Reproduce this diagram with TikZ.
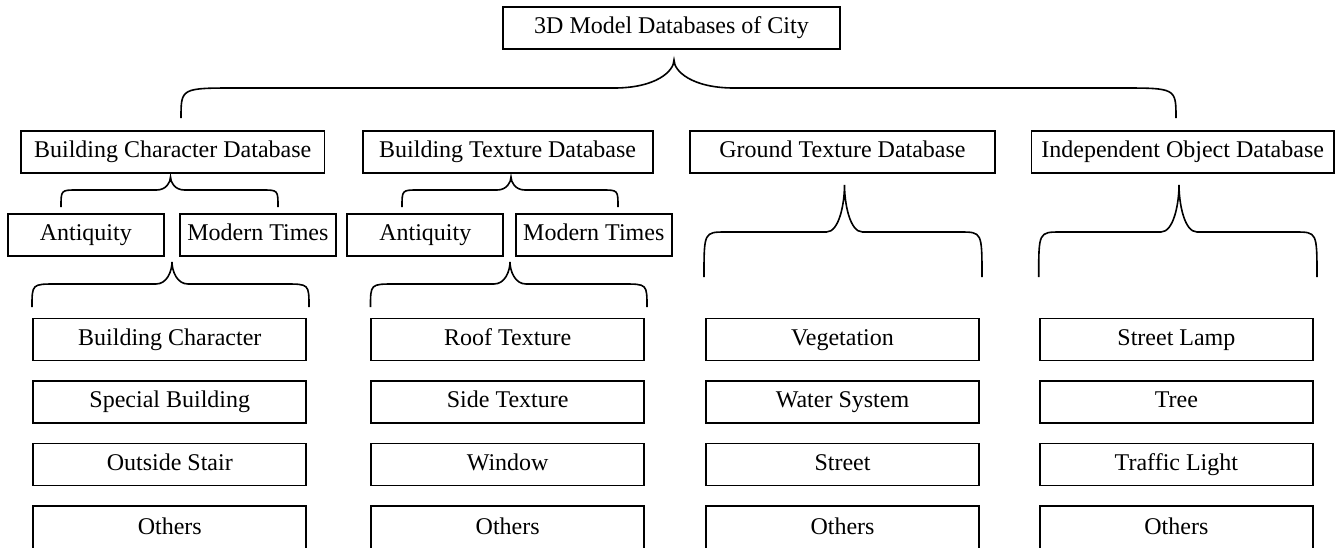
\documentclass[tikz,border=0pt]{standalone}
\usepackage{fontspec}
\setmainfont{Liberation Serif}
% brace: x left end, x right end, x cusp, y cusp, y middle, y ends, arm length, cusp length
\newcommand{\dbbrace}[8]{%
  \draw[bracepath] (#1,#6) .. controls (#1,#5) .. ({#1+#7},#5)
    -- ({#3-#8},#5) .. controls ({#3-0.3*#8},#5) and (#3,{#4+0.4*(#5-#4)}) .. (#3,#4)
    .. controls (#3,{#4+0.4*(#5-#4)}) and ({#3+0.3*#8},#5) .. ({#3+#8},#5)
    -- ({#2-#7},#5) .. controls (#2,#5) .. (#2,#6);}
\tikzset{
  dbbox/.style={draw, line width=0.9pt, inner sep=0pt, minimum height=21pt,
    text height=8.4pt, text depth=2.6pt, font=\fontsize{12}{14}\selectfont},
  leafbox/.style={dbbox, minimum width=136.5pt},
  lastbox/.style={leafbox, minimum height=23pt},
  erabox/.style={dbbox, minimum width=78pt},
  bracepath/.style={line width=0.8pt}
}
\begin{document}
\begin{tikzpicture}[x=0.5pt,y=-0.5pt]
      \clip (0,0) rectangle (1339,547);
      \fill[white] (0,0) rectangle (1339,547);
      % root
      \node[dbbox, minimum width=168.5pt] (city) at (671.5,28) {3D Model Databases of City};
      % databases
      \node[dbbox, minimum width=151.75pt] (bcd) at (172.7,152) {Building Character Database};
      \node[dbbox, minimum width=145pt] (btd) at (507.6,152) {Building Texture Database};
      \node[dbbox, minimum width=152.5pt] (gtd) at (842.5,152) {Ground Texture Database};
      \node[dbbox, minimum width=151.25pt] (iod) at (1182.7,152) {Independent Object Database};
      % eras
      \node[erabox] (ant1) at (85.8,235) {Antiquity};
      \node[erabox] (mod1) at (257.9,235) {Modern Times};
      \node[erabox] (ant2) at (425.3,235) {Antiquity};
      \node[erabox] (mod2) at (593.8,235) {Modern Times};
      % building character
      \node[leafbox] (bc1) at (169.8,339.5) {Building Character};
      \node[leafbox] (bc2) at (169.8,402) {Special Building};
      \node[leafbox] (bc3) at (169.8,464.5) {Outside Stair};
      \node[lastbox] (bc4) at (169.8,529) {Others};
      % building texture
      \node[leafbox] (bt1) at (507.7,339.5) {Roof Texture};
      \node[leafbox] (bt2) at (507.7,402) {Side Texture};
      \node[leafbox] (bt3) at (507.7,464.5) {Window};
      \node[lastbox] (bt4) at (507.7,529) {Others};
      % ground texture
      \node[leafbox] (gt1) at (842.5,339.5) {Vegetation};
      \node[leafbox] (gt2) at (842.5,402) {Water System};
      \node[leafbox] (gt3) at (842.5,464.5) {Street};
      \node[lastbox] (gt4) at (842.5,529) {Others};
      % independent objects
      \node[leafbox] (io1) at (1176.4,339.5) {Street Lamp};
      \node[leafbox] (io2) at (1176.4,402) {Tree};
      \node[leafbox] (io3) at (1176.4,464.5) {Traffic Light};
      \node[lastbox] (io4) at (1176.4,529) {Others};
      % braces
      \dbbrace{181}{1176}{674}{60}{88}{118}{56}{60}
      \dbbrace{61}{278}{170.5}{177}{190}{207}{16}{14}
      \dbbrace{402}{618}{511}{177}{190}{207}{16}{14}
      \dbbrace{32}{309}{172}{262}{284}{307}{24}{16}
      \dbbrace{370.5}{647}{510}{262}{284}{307}{24}{16}
      \dbbrace{704}{982}{844.5}{185}{232}{277}{22}{18}
      \dbbrace{1038.7}{1317}{1179}{185}{232}{277}{22}{18}
    \end{tikzpicture}
\end{document}
